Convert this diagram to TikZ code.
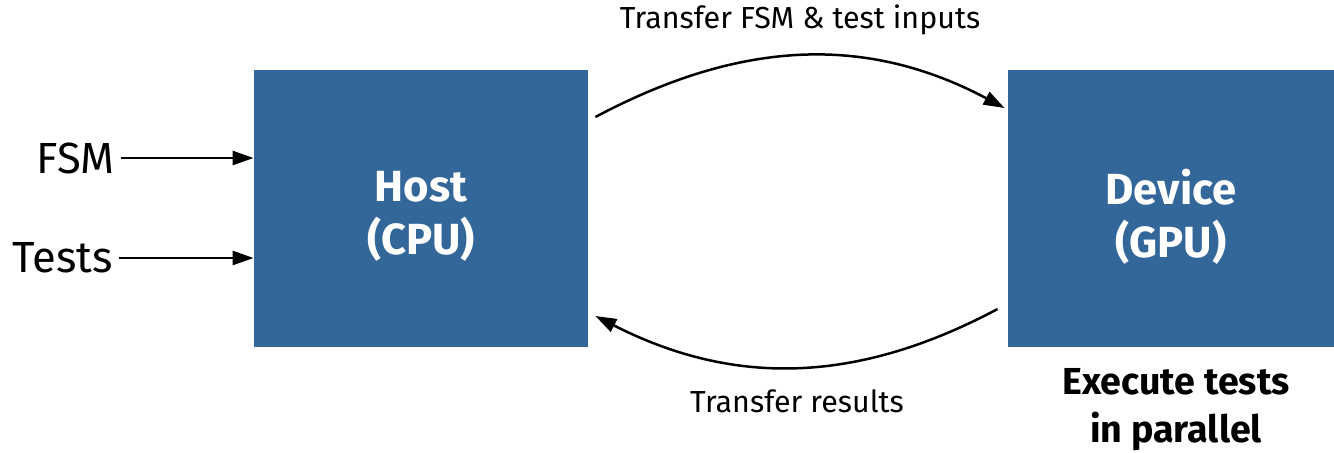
\documentclass[tikz,border=0pt]{standalone}
\usepackage{fontspec}
\setmainfont{Fira Sans}
\usetikzlibrary{positioning, arrows.meta}

\definecolor{boxblue}{HTML}{336699}

\begin{document}
\begin{tikzpicture}[
  x=0.5pt, y=-0.5pt,
  unit/.style={fill=boxblue, draw=none, minimum height=138.5pt},
  unittxt/.style={text=white, align=center, yshift=-4pt,
                  font=\fontsize{21.8}{26.5}\selectfont\bfseries},
  inlbl/.style={inner xsep=3pt, font=\fontsize{21.8}{26}\selectfont},
  xferlbl/.style={font=\fontsize{15.2}{18}\selectfont},
  flow/.style={-{Triangle[length=10.5pt, width=7pt]}, line width=1.25pt},
]
  \useasboundingbox (0,0) rectangle (1334,452);

  % --- host and device ---
  \node[unit, minimum width=167pt, label={[unittxt]center:{Host\\(CPU)}}]
    (host) at (421,208.5) {};
  \node[unit, minimum width=163pt, label={[unittxt]center:{Device\\(GPU)}}]
    (dev) at (1171,208.5) {};

  % --- inputs ---
  \node[inlbl, anchor=east] (fsm) at (121,158) {FSM};
  \node[inlbl, anchor=east] (tests) at (119,258) {Tests};
  \draw[flow] (fsm.east) -- (fsm.east -| host.west);
  \draw[flow] (tests.east) -- (tests.east -| host.west);

  % --- transfers ---
  \draw[flow] ([shift={(7,-91.5)}]host.east) to[out=28, in=152]
    ([shift={(-3,-100.5)}]dev.west);
  \draw[flow] ([shift={(-10,100.5)}]dev.west) to[out=208, in=333]
    ([shift={(7,107.5)}]host.east);
  \node[xferlbl] (tin) at (800,20) {Transfer FSM \& test inputs};
  \node[xferlbl] (tout) at (797,401) {Transfer results};

  % --- note under device ---
  \node[align=center, font=\fontsize{18.8}{24}\selectfont\bfseries]
    (note) at (1176,410) {Execute tests\\in parallel};
\end{tikzpicture}
\end{document}
